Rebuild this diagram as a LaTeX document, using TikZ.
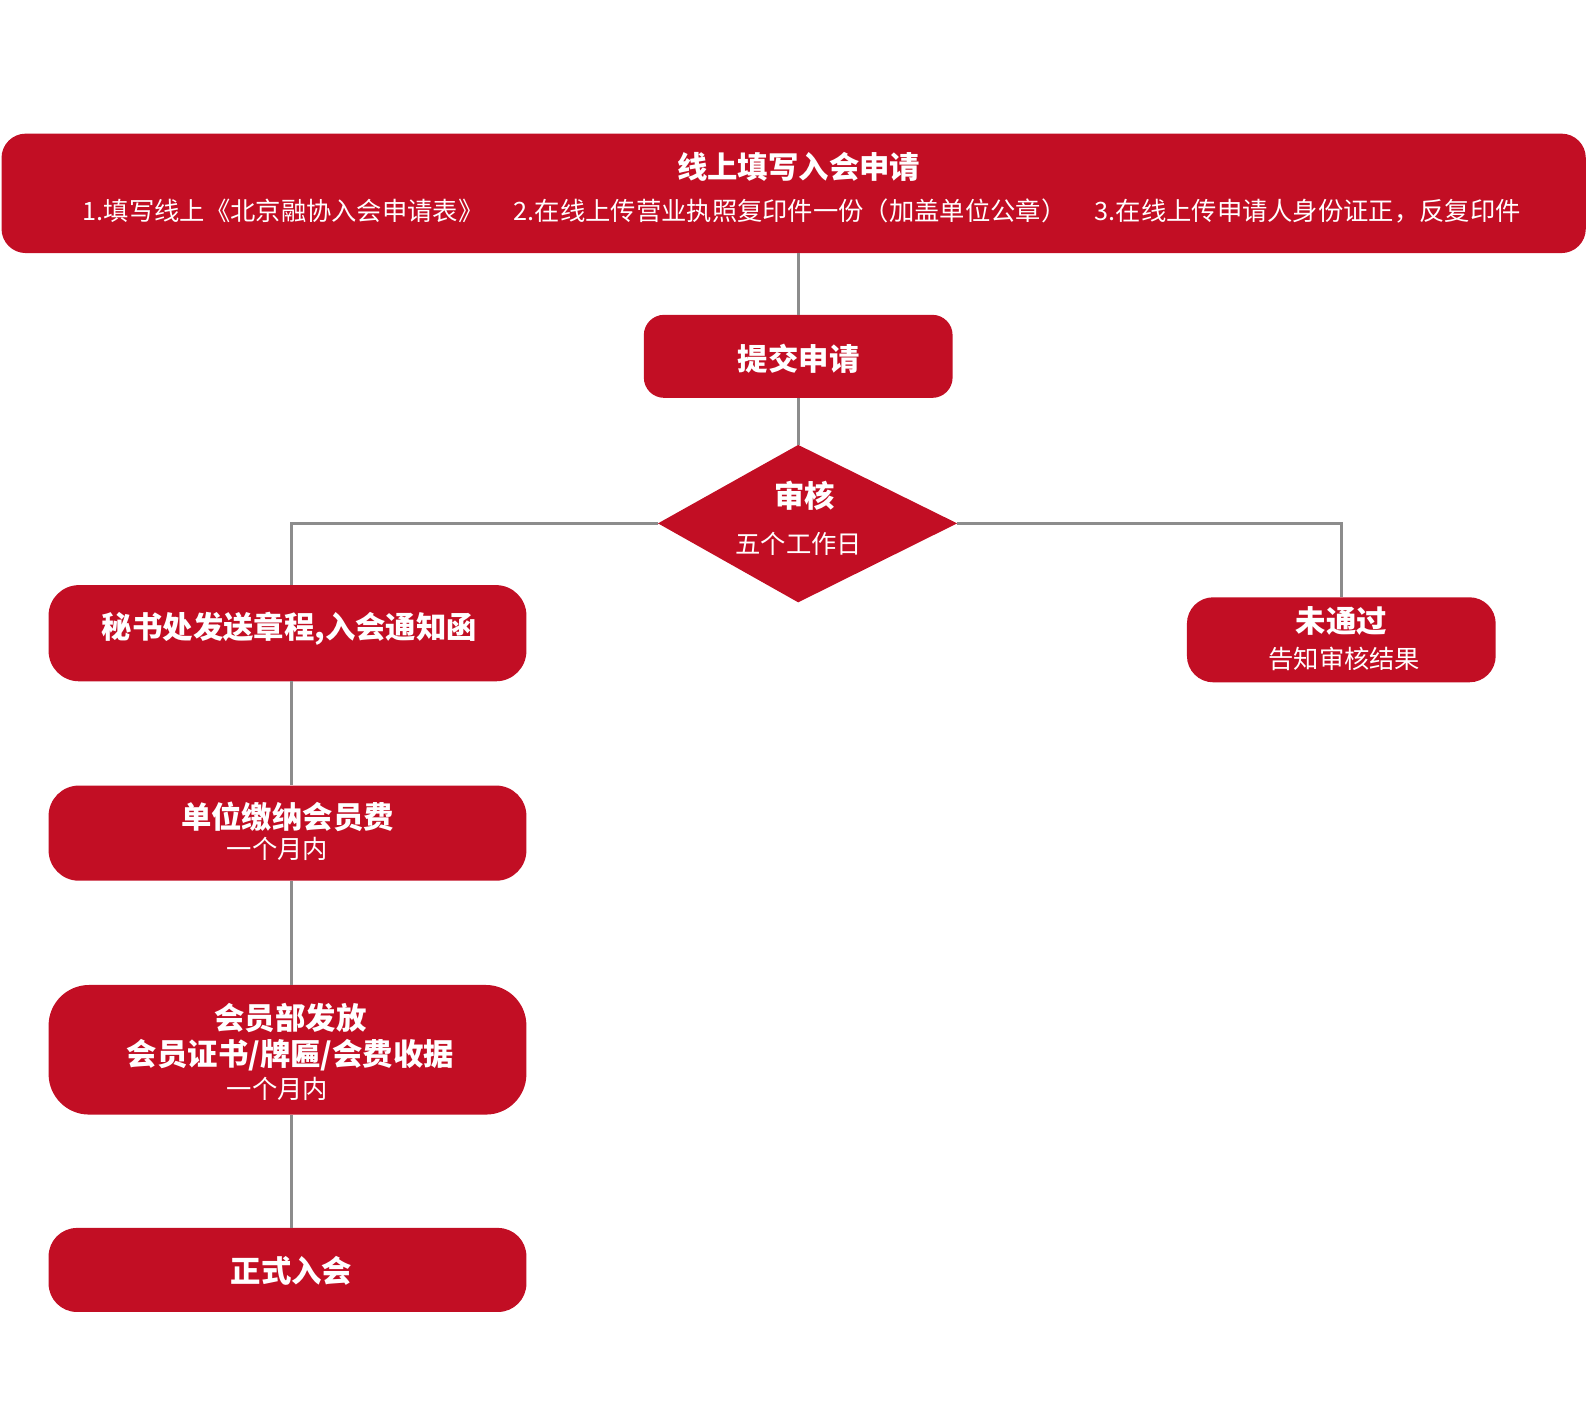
\documentclass[tikz,border=0pt]{standalone}
\usepackage{fontspec}
\setmainfont{Noto Sans CJK SC}
\definecolor{boxred}{HTML}{C20E24}
\definecolor{linegray}{HTML}{8C8C8C}
\tikzset{
  box/.style={fill=boxred, draw=none, rectangle, inner sep=0pt},
  txt/.style={text=white, inner sep=0pt, anchor=center, align=center},
  bigb/.style={font=\fontsize{30}{36}\selectfont\bfseries},
  small/.style={font=\fontsize{25}{30}\selectfont},
  conn/.style={draw=linegray, line width=3.2pt}
}
\begin{document}
\begin{tikzpicture}[x=1pt,y=-1pt]
\useasboundingbox (0,0) rectangle (1567.7,1388.9);
% boxes
\node[box, rounded corners=24pt, minimum width=1565pt, minimum height=118pt] (top) at (784,191) {};
\node[box, rounded corners=20pt, minimum width=305pt, minimum height=82pt] (submit) at (788.5,352) {};
% decision diamond
\coordinate (dT) at (788.5,439.5);
\coordinate (dL) at (650,517);
\coordinate (dR) at (945.5,517);
\coordinate (dB) at (788.5,595);
\fill[boxred] (dT) -- (dR) -- (dB) -- (dL) -- cycle;
\node[box, rounded corners=30pt, minimum width=472pt, minimum height=95pt] (b1) at (284,625.5) {};
\node[box, rounded corners=30pt, minimum width=472pt, minimum height=94pt] (b2) at (284,823) {};
\node[box, rounded corners=40pt, minimum width=472pt, minimum height=128pt] (b3) at (284,1037) {};
\node[box, rounded corners=28pt, minimum width=472pt, minimum height=83pt] (b4) at (284,1254.5) {};
\node[box, rounded corners=26pt, minimum width=305pt, minimum height=84pt] (fail) at (1325,632) {};
% connectors
\draw[conn] (submit.north |- top.south) -- (submit.north);
\draw[conn] (submit.south) -- (dT);
\draw[conn] (dL) -| ([xshift=4pt]b1.north);
\draw[conn] (dR) -| (fail.north);
\draw[conn] ([xshift=4pt]b1.south) -- ([xshift=4pt]b2.north);
\draw[conn] ([xshift=4pt]b2.south) -- ([xshift=4pt]b3.north);
\draw[conn] ([xshift=4pt]b3.south) -- ([xshift=4pt]b4.north);
% texts
\node[txt, bigb] (t0) at (789,165) {线上填写入会申请};
\node[txt, small] (t0b) at (792,208) {1.填写线上《北京融协入会申请表》\hspace{30pt}2.在线上传营业执照复印件一份（加盖单位公章）\hspace{28pt}3.在线上传申请人身份证正，反复印件};
\node[txt, bigb] (ts) at (789,354) {提交申请};
\node[txt, bigb] (tr1) at (795,490) {审核};
\node[txt, small] (tr2) at (789,537) {五个工作日};
\node[txt, bigb] (t1) at (286,621) {秘书处发送章程,入会通知函};
\node[txt, bigb] (t2a) at (284,807) {单位缴纳会员费};
\node[txt, small] (t2b) at (274,839) {一个月内};
\node[txt, bigb] (t3a) at (287,1006) {会员部发放};
\node[txt, bigb] (t3b) at (287,1042) {会员证书/牌匾/会费收据};
\node[txt, small] (t3c) at (274,1076) {一个月内};
\node[txt, bigb] (t4) at (288,1255) {正式入会};
\node[txt, bigb] (tf1) at (1325,613) {未通过};
\node[txt, small] (tf2) at (1328,651) {告知审核结果};
\end{tikzpicture}
\end{document}
